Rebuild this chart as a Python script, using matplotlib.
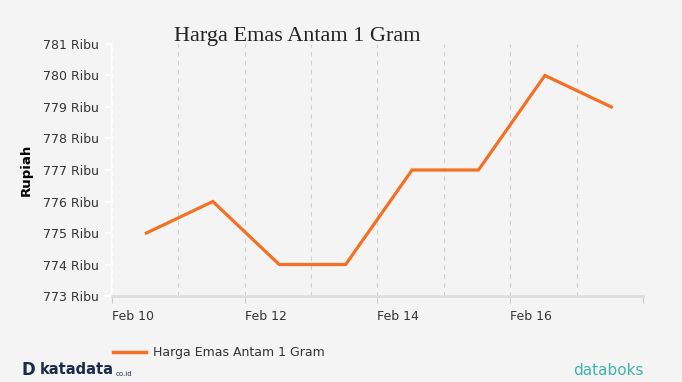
import matplotlib.pyplot as plt
import matplotlib.dates as mdates
import pandas as pd

# data
tanggal = pd.date_range('2020-02-10 12:30', periods=8, freq='D')
harga = [775, 776, 774, 774, 777, 777, 780, 779]  # ribu rupiah
y_ticks = [773, 774, 775, 776, 777, 778, 779, 780, 781]

bg = '#f4f4f4'
oranye = '#f47022'

fig = plt.figure(figsize=(6.82, 3.82), dpi=100, facecolor=bg)
ax = fig.add_axes([0.164, 0.225, 0.779, 0.66], facecolor=bg)

ax.plot(tanggal, harga, color=oranye, linewidth=2.3, solid_joinstyle='miter')

ax.set_xlim(pd.Timestamp('2020-02-10'), pd.Timestamp('2020-02-18'))
ax.set_ylim(773, 781)
ax.set_yticks(y_ticks)
ax.set_yticklabels([f'{v} Ribu' for v in y_ticks], fontsize=9, color='#333333')

ax.xaxis.set_major_locator(mdates.DayLocator(interval=2))
ax.xaxis.set_minor_locator(mdates.DayLocator())
ax.xaxis.set_major_formatter(mdates.DateFormatter('%b %d'))
ax.tick_params(axis='x', which='major', length=5, color='#cccccc', pad=5)
ax.tick_params(axis='x', which='minor', length=0)
ax.tick_params(axis='y', length=5, color='white', width=1.2, pad=4)
ax.grid(axis='x', which='both', color='#d0d0d0', linestyle=(0, (4, 4)), linewidth=0.8)

fig.canvas.draw()
for lbl in ax.get_xticklabels():
    lbl.set_horizontalalignment('left')
    lbl.set_fontsize(9)
    lbl.set_color('#333333')
    if lbl.get_text() == 'Feb 18':
        lbl.set_visible(False)

for s in ['top', 'right']:
    ax.spines[s].set_visible(False)
ax.spines['left'].set_color('white')
ax.spines['left'].set_linewidth(1.2)
ax.spines['bottom'].set_color('#dddddd')
ax.spines['bottom'].set_linewidth(2)

ax.set_ylabel('Rupiah', fontsize=9.5, fontweight='bold')
ax.yaxis.set_label_coords(-0.148, 0.5)

fig.text(0.255, 0.893, 'Harga Emas Antam 1 Gram', family='Liberation Serif', fontsize=16, color='#222222')

# legend
fig.lines.append(plt.Line2D([0.166, 0.214], [0.078, 0.078], color=oranye, linewidth=2.5, transform=fig.transFigure))
fig.text(0.224, 0.078, 'Harga Emas Antam 1 Gram', fontsize=9, va='center', color='#333333')

# logos
fig.text(0.032, 0.032, 'D', fontsize=12, fontweight='bold', color='#1c2b4a', va='center')
fig.text(0.058, 0.032, 'katadata', fontsize=10.5, fontweight='bold', color='#1c2b4a', va='center')
fig.text(0.170, 0.022, 'co.id', fontsize=5, color='#1c2b4a', va='center')
fig.text(0.84, 0.03, 'databoks', fontsize=11, color='#3fb3b0', va='center')

fig.savefig('out.png', dpi=100, facecolor=bg)
